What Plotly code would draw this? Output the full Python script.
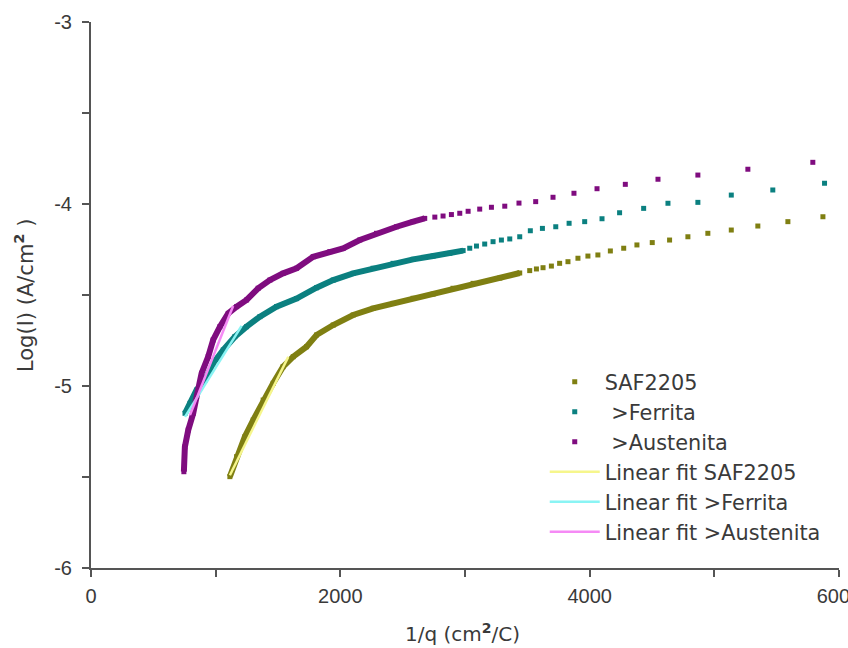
import plotly.graph_objects as go

# ---- data ----
saf_dense_x = [1114, 1168, 1234, 1301, 1381, 1461, 1541, 1622, 1729, 1809, 1943, 2103, 2263, 2423, 2584, 2744, 2904, 3065, 3279, 3439]
saf_dense_y = [-5.498, -5.388, -5.279, -5.187, -5.077, -4.985, -4.894, -4.839, -4.784, -4.720, -4.665, -4.610, -4.573, -4.546, -4.518, -4.495, -4.463, -4.436, -4.407, -4.379]
saf_sparse_x = [3519, 3573, 3626, 3693, 3759, 3826, 3906, 3986, 4066, 4166, 4273, 4379, 4502, 4641, 4788, 4948, 5136, 5349, 5590, 5871]
saf_sparse_y = [-4.366, -4.357, -4.350, -4.341, -4.326, -4.317, -4.298, -4.286, -4.280, -4.258, -4.243, -4.225, -4.212, -4.198, -4.180, -4.161, -4.143, -4.121, -4.097, -4.070]

fer_dense_x = [754, 794, 847, 914, 980, 1061, 1154, 1248, 1355, 1488, 1649, 1809, 1943, 2103, 2263, 2423, 2584, 2744, 2878, 2985]
fer_dense_y = [-5.150, -5.095, -5.022, -4.967, -4.875, -4.802, -4.729, -4.674, -4.619, -4.564, -4.520, -4.460, -4.418, -4.381, -4.353, -4.326, -4.304, -4.286, -4.271, -4.256]
fer_sparse_x = [3038, 3092, 3158, 3225, 3292, 3359, 3439, 3524, 3621, 3728, 3835, 3960, 4099, 4240, 4433, 4628, 4868, 5136, 5469, 5884]
fer_sparse_y = [-4.243, -4.231, -4.220, -4.207, -4.198, -4.192, -4.180, -4.147, -4.134, -4.125, -4.106, -4.097, -4.081, -4.048, -4.024, -3.996, -3.991, -3.951, -3.923, -3.886]

aus_dense_x = [745, 753, 780, 820, 847, 887, 940, 980, 1034, 1101, 1168, 1248, 1341, 1435, 1541, 1649, 1782, 1916, 2022, 2156, 2290, 2451, 2584, 2677]
aus_dense_y = [-5.471, -5.334, -5.242, -5.150, -5.059, -4.930, -4.839, -4.747, -4.674, -4.601, -4.564, -4.527, -4.463, -4.418, -4.381, -4.353, -4.290, -4.262, -4.244, -4.198, -4.161, -4.125, -4.097, -4.079]
aus_sparse_x = [2758, 2824, 2891, 2958, 3025, 3118, 3212, 3319, 3433, 3567, 3706, 3874, 4059, 4286, 4548, 4868, 5269, 5790]
aus_sparse_y = [-4.072, -4.066, -4.058, -4.051, -4.040, -4.028, -4.018, -4.012, -3.995, -3.987, -3.963, -3.941, -3.916, -3.892, -3.864, -3.841, -3.809, -3.771]

fit_saf_x = [1114, 1582]
fit_saf_y = [-5.49, -4.84]
fit_fer_x = [754, 1208]
fit_fer_y = [-5.17, -4.67]
fit_aus_x = [794, 1140]
fit_aus_y = [-5.16, -4.56]

names = ["SAF2205", " >Ferrita", " >Austenita"]
fit_names = ["Linear fit SAF2205", "Linear fit >Ferrita", "Linear fit >Austenita"]

x_ticks = [0, 2000, 4000, 6000]
y_ticks = [-6, -5, -4, -3]
x_title = "1/q (cm<sup><b>2</b></sup>/C)"
y_title = "Log(I) (A/cm<sup><b>2</b></sup> )"

# ---- styles ----
colors = ["#7f7f12", "#0b8080", "#7f0c7f"]
fit_colors = ["#f6f68c", "#8af4f4", "#f58af5"]
FONT = "Liberation Sans, Arial, sans-serif"
WIDE = "DejaVu Sans, sans-serif"
TXT = "#3a3a3a"
AX = "#555555"

fig = go.Figure()

series = [
    (saf_dense_x, saf_dense_y, saf_sparse_x, saf_sparse_y),
    (fer_dense_x, fer_dense_y, fer_sparse_x, fer_sparse_y),
    (aus_dense_x, aus_dense_y, aus_sparse_x, aus_sparse_y),
]

for i, (dx, dy, sx, sy) in enumerate(series):
    fig.add_trace(go.Scatter(
        x=dx, y=dy, mode="lines", line=dict(color=colors[i], width=6),
        showlegend=False, hoverinfo="skip"))
    fig.add_trace(go.Scatter(
        x=dx + sx, y=dy + sy, mode="markers", name=names[i],
        marker=dict(symbol="square", size=5, color=colors[i])))

fits = [(fit_saf_x, fit_saf_y), (fit_fer_x, fit_fer_y), (fit_aus_x, fit_aus_y)]
for i, (fx, fy) in enumerate(fits):
    fig.add_trace(go.Scatter(
        x=fx, y=fy, mode="lines", name=fit_names[i],
        line=dict(color=fit_colors[i], width=2.5)))

axis_common = dict(
    showgrid=False, zeroline=False, showline=True, linecolor=AX, linewidth=2,
    ticks="outside", tickcolor=AX, tickwidth=2, ticklen=7,
    tickfont=dict(family=FONT, size=20, color=TXT),
    automargin=False, ticklabeloverflow="allow",
)

fig.update_xaxes(
    range=[0, 6000], tickvals=x_ticks, ticktext=[str(v) for v in x_ticks],
    minor=dict(dtick=1000, tick0=0, ticks="outside", ticklen=7, tickcolor=AX, tickwidth=2),
    ticklabelstandoff=2,
    **axis_common)
fig.update_yaxes(
    range=[-6, -3], tickvals=y_ticks, ticktext=[str(v) for v in y_ticks],
    minor=dict(dtick=0.5, tick0=0, ticks="outside", ticklen=7, tickcolor=AX, tickwidth=2),
    ticklabelstandoff=6,
    **axis_common)

fig.add_annotation(text=x_title, xref="paper", yref="paper", x=0.497, y=-0.119,
                   xanchor="center", yanchor="middle", showarrow=False,
                   font=dict(family=WIDE, size=20, color=TXT))
fig.add_annotation(text=y_title, xref="paper", yref="paper", x=-0.0895, y=0.5,
                   xanchor="center", yanchor="middle", textangle=-90, showarrow=False,
                   font=dict(family=WIDE, size=21, color=TXT))

fig.update_layout(
    width=848, height=648,
    margin=dict(l=91, r=9, t=22, b=80),
    plot_bgcolor="white", paper_bgcolor="white",
    font=dict(family=FONT, size=20, color=TXT),
    legend=dict(x=0.6066, y=0.378, xanchor="left", yanchor="top",
                bgcolor="rgba(0,0,0,0)", font=dict(family=WIDE, size=20.8, color=TXT),
                itemwidth=50),
)

# remove the default 8px page margin so the figure fills the window exactly
fig.write_html(
    "out.html",
    config={"displayModeBar": False},
    post_script="document.body.style.margin='0';document.body.style.overflow='hidden';",
)
